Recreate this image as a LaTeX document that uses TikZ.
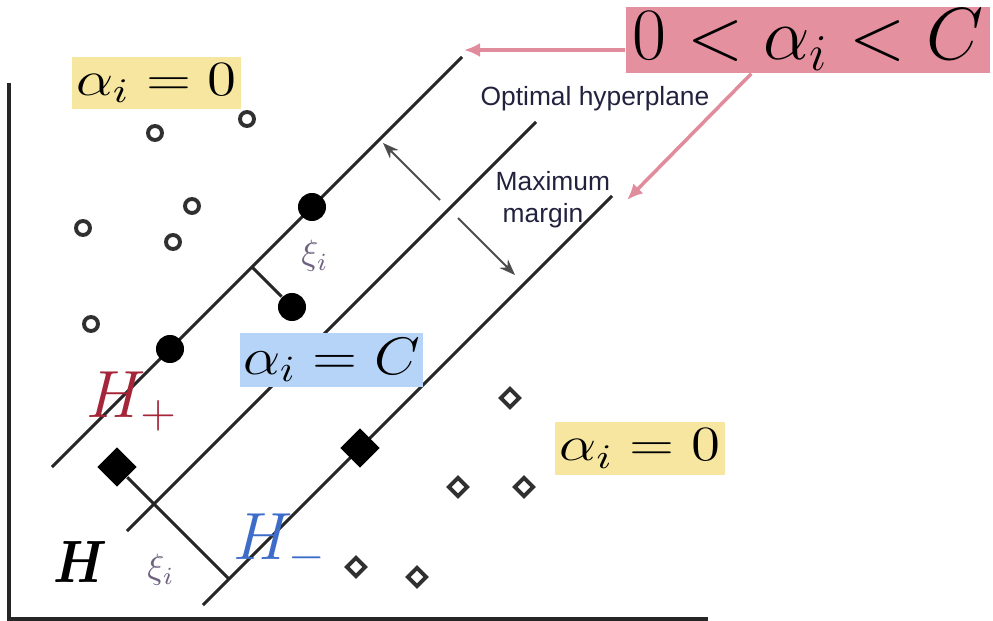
\RequirePackage{fix-cm}
\documentclass[tikz,border=0pt]{standalone}
\usepackage{fontspec}
\usepackage{bm}
\usepackage{graphicx}
\usetikzlibrary{shapes.geometric,arrows.meta,calc}
\newfontfamily\lsans{Liberation Sans}
\definecolor{yellowbg}{HTML}{F7E6A0}
\definecolor{pinkbg}{HTML}{E5909F}
\definecolor{bluebg}{HTML}{B5D4F7}
\definecolor{hred}{HTML}{A52639}
\definecolor{hblue}{HTML}{3D6CC9}
\definecolor{pinkarrow}{HTML}{E08C9C}
\definecolor{ptgray}{HTML}{303030}
\definecolor{navytext}{HTML}{22223F}
\definecolor{xicol}{HTML}{6E6280}
\begin{document}
\begin{tikzpicture}[x=0.01cm,y=-0.01cm,
  sv/.style={circle,fill=black,inner sep=0pt,minimum size=0.28cm},
  svd/.style={diamond,fill=black,inner sep=0pt,minimum size=0.40cm},
  pc/.style={circle,draw=ptgray,line width=1.1pt,inner sep=0pt,minimum size=0.14cm},
  pd/.style={diamond,draw=ptgray,line width=1.1pt,inner sep=0pt,minimum size=0.20cm},
  hyp/.style={line width=0.9pt,draw=black!85},
  axisline/.style={line width=1.2pt,draw=black!85},
  marg/.style={line width=0.6pt,draw=black!70,-{Stealth[length=1.6mm,width=1.2mm]}},
  pinkarr/.style={line width=1pt,draw=pinkarrow,-{Latex[length=1.6mm,width=1.4mm]}},
  yellowlab/.style={fill=yellowbg,inner sep=0pt,minimum width=1.69cm,minimum height=0.52cm},
  smalltext/.style={inner sep=0pt,text=navytext,font=\lsans\fontsize{7.5}{9}\selectfont},
  xilab/.style={inner sep=0pt,text=xicol,font=\fontsize{10}{12}\selectfont}
]
\useasboundingbox (0,0) rectangle (993,621);

% axes
\coordinate (ytop) at (9,83);
\coordinate (orig) at (9,619);
\coordinate (xend) at (708,619);
\draw[axisline] (ytop) -- (orig) -- (xend);

% hyperplanes
\coordinate (hpA) at (52,467);  \coordinate (hpB) at (462,57);
\coordinate (hA)  at (127,531); \coordinate (hB)  at (536,122);
\coordinate (hmA) at (203,605); \coordinate (hmB) at (612,196);
\draw[hyp] (hpA) -- (hpB);
\draw[hyp] (hA) -- (hB);
\draw[hyp] (hmA) -- (hmB);

% slack junctions
\coordinate (j1) at (252,267);
\coordinate (j2) at (229,579);

% support vectors
\node[sv] (s1) at (312,207) {};
\node[sv] (s2) at (170,349) {};
\node[sv] (s3) at (292,307) {};
\node[svd] (t1) at (360,448) {};
\node[svd] (t2) at (117,467) {};
\draw[hyp] (j1) -- (s3);
\draw[hyp] (t2) -- (j2);

% other points
\node[pc] (c1) at (155,133) {};
\node[pc] (c2) at (247,119) {};
\node[pc] (c3) at (192,206) {};
\node[pc] (c4) at (83,228) {};
\node[pc] (c5) at (173,242) {};
\node[pc] (c6) at (91,324) {};
\node[pd] (d1) at (510,398) {};
\node[pd] (d2) at (458,487) {};
\node[pd] (d3) at (524,487) {};
\node[pd] (d4) at (356,567) {};
\node[pd] (d5) at (417,577) {};

% margin arrows
\coordinate (m0a) at (440,200); \coordinate (m1) at (383,143);
\coordinate (m0b) at (458,218); \coordinate (m2) at (515,275);
\draw[marg] (m0a) -- (m1);
\draw[marg] (m0b) -- (m2);

% text labels
\node[smalltext] (opt) at (595,99) {Optimal hyperplane};
\node[smalltext,anchor=west] (mx1) at (495,181) {Maximum};
\node[smalltext,anchor=west] (mx2) at (502,216) {margin};
\node[xilab] (xi1) at (315,256) {$\xi_i$};
\node[xilab] (xi2) at (161,570) {$\xi_i$};

% coloured labels
\node[yellowlab] (y1) at (156.5,83) {\scalebox{1.2}[1]{\fontsize{14}{16}\selectfont$\alpha_i=0$}};
\node[yellowlab] (y2) at (640,448.5) {\scalebox{1.2}[1]{\fontsize{14}{16}\selectfont$\alpha_i=0$}};
\node[fill=bluebg,inner sep=0pt,minimum width=1.83cm,minimum height=0.54cm] (bl) at (331.5,360) {\scalebox{1.12}[1]{\fontsize{15}{17}\selectfont$\alpha_i=C$}};
\node[fill=pinkbg,inner sep=0pt,minimum width=3.64cm,minimum height=0.66cm] (pink) at (808,40) {\fontsize{21}{24}\selectfont$0<\alpha_i<C$};

% H labels
\node[inner sep=0pt,text=hred] (hplus) at (132,401) {\fontsize{19}{22}\selectfont$H_+$};
\node[inner sep=0pt,text=black] (hmid) at (81,562) {\scalebox{0.85}[1]{\fontsize{17}{20}\selectfont$\bm{H}$}};
\node[inner sep=0pt,text=hblue] (hminus) at (280,544) {\fontsize{19}{22}\selectfont$H_-$};

% pink arrows
\coordinate (pa1) at (464,50);
\coordinate (pa2) at (627,200);
\draw[pinkarr] ([yshift=-0.1cm]pink.west) -- (pa1);
\draw[pinkarr] ([xshift=1.26cm]pink.south west) -- (pa2);
\end{tikzpicture}
\end{document}
